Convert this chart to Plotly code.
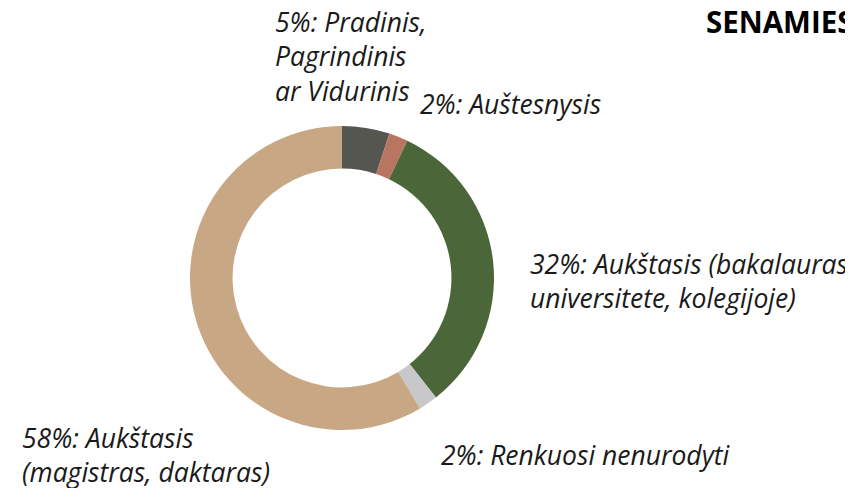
import plotly.graph_objects as go

# education level shares
labels = [
    "Pradinis, Pagrindinis ar Vidurinis",
    "Auštesnysis",
    "Aukštasis (bakalauras universitete, kolegijoje)",
    "Renkuosi nenurodyti",
    "Aukštasis (magistras, daktaras)",
]
values = [5, 2, 32, 2, 58]
colors = ["#55564f", "#b87560", "#4b6638", "#c8c8ca", "#c8a884"]

# label text broken into lines as shown on the chart
label_lines = [
    ["Pradinis,", "Pagrindinis", "ar Vidurinis"],
    ["Auštesnysis"],
    ["Aukštasis (bakalauras", "universitete, kolegijoje)"],
    ["Renkuosi nenurodyti"],
    ["Aukštasis", "(magistras, daktaras)"],
]
# label anchor points (pixels in the window, left edge / vertical middle)
label_pos = [(273, 56), (418, 104), (528, 281), (439, 455), (20, 455)]

W, H = 853, 488
OFF = 8  # page body margin


def px_x(x):
    return (x - OFF) / W


def px_y(y):
    return 1 - (y - OFF) / H


fig = go.Figure()
fig.add_trace(go.Pie(
    labels=labels, values=values,
    marker=dict(colors=colors, line=dict(width=0)),
    hole=0.72, sort=False, direction="clockwise",
    textinfo="none", hoverinfo="label+percent",
    domain=dict(x=[px_x(190), px_x(494)], y=[px_y(430), px_y(126)]),
    showlegend=False,
))

for v, lines, (x, y) in zip(values, label_lines, label_pos):
    txt = "<br>".join([f"{v}%: {lines[0]}"] + lines[1:])
    fig.add_annotation(
        text=txt, x=px_x(x), y=px_y(y), xref="paper", yref="paper",
        xanchor="left", yanchor="middle", align="left", showarrow=False,
        font=dict(family="Open Sans", size=26.5, color="#1a1a1a", style="italic"),
    )

fig.add_annotation(
    text="<b>SENAMIESTIS</b>", x=px_x(704), y=px_y(22), xref="paper", yref="paper",
    xanchor="left", yanchor="middle", showarrow=False,
    font=dict(family="Open Sans", size=29.5, color="#000000"),
)

fig.update_layout(
    width=W, height=H,
    margin=dict(l=0, r=0, t=0, b=0),
    paper_bgcolor="white", plot_bgcolor="white",
)

fig.write_html("out.html")
